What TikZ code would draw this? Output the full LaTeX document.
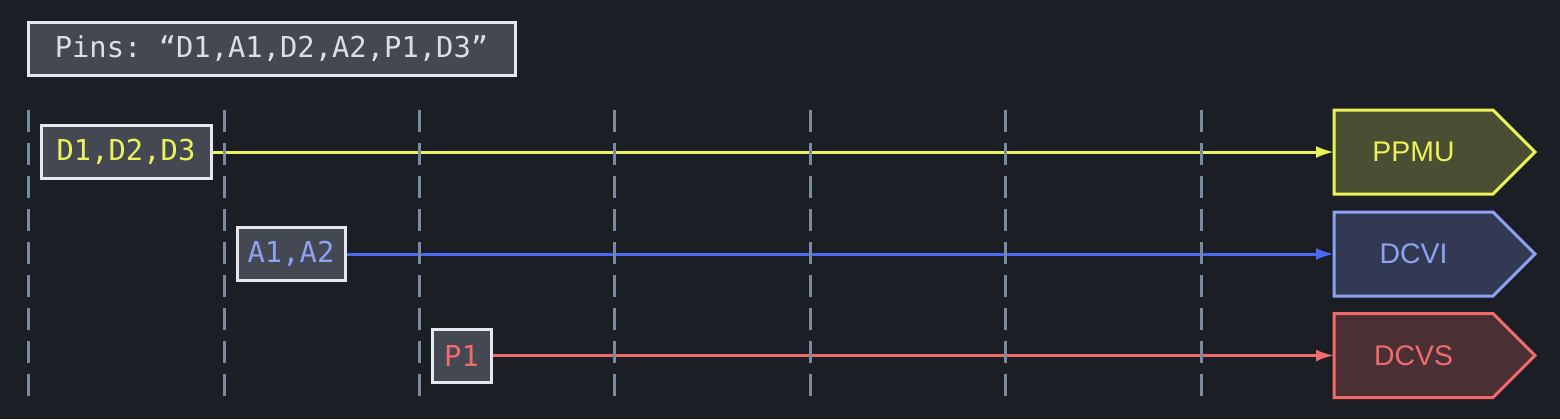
\documentclass[tikz,border=0pt]{standalone}
\usepackage{fontspec}
\setmonofont{DejaVu Sans Mono}
\setsansfont{Liberation Sans}
\usepackage{tikz}
\definecolor{panelbg}{HTML}{1B1E25}
\definecolor{boxfill}{HTML}{444852}
\definecolor{boxline}{HTML}{E6E7EC}
\definecolor{gridcol}{HTML}{7A8AA0}
\definecolor{pintext}{HTML}{DCDEE4}
\definecolor{ppmucol}{HTML}{ECF25A}
\definecolor{ppmufill}{HTML}{4A4E32}
\definecolor{dcvicol}{HTML}{8EA2F2}
\definecolor{dcviline}{HTML}{4A6AF5}
\definecolor{dcvifill}{HTML}{313A52}
\definecolor{dcvscol}{HTML}{F06B6B}
\definecolor{dcvsfill}{HTML}{4A2F35}
\usetikzlibrary{positioning, arrows.meta, backgrounds}
\tikzstyle{arrow} = [line width=1.5pt,-{Latex[length=9pt,width=6pt]}]

\begin{document}
\begin{tikzpicture}[x=0.5pt, y=-0.5pt]
    \tikzstyle{every node}=[font=\fontsize{14.4}{17}\selectfont\ttfamily]
    \tikzstyle{pinbox} = [draw=boxline, fill=boxfill, line width=1.5pt, inner sep=0pt, minimum height=26.5pt]
    \tikzstyle{unit} = [draw=none, inner sep=0pt, outer sep=0pt, minimum width=79.5pt, minimum height=42pt, font=\fontsize{14.2}{17}\selectfont\sffamily]
    \tikzstyle{unitshape} = [line width=1.5pt]
    \tikzstyle{grid} = [gridcol, line width=1.5pt, dash pattern=on 11pt off 5.5pt]

    \useasboundingbox (0,0) rectangle (1560,419);
    \begin{scope}[on background layer]
        \fill[panelbg] (0,0) rectangle (1560,419);
    \end{scope}

    % pin list
    \node[pinbox, minimum width=243.5pt, text=pintext](pins) at (271.5,48.5) {Pins: “D1,A1,D2,A2,P1,D3”};

    % pin groups
    \node[pinbox, minimum width=85pt, text=ppmucol](dpins) at (126,152) {D1,D2,D3};
    \node[pinbox, minimum width=54pt, text=dcvicol](apins) at (291,254) {A1,A2};
    \node[pinbox, minimum width=29.5pt, text=dcvscol](ppins) at (461.5,355.5) {P1};

    % instruments
    \node[unit, text=ppmucol](ppmu) at (1413.5,152) {PPMU};
    \node[unit, text=dcvicol](dcvi) at (1413.5,254) {DCVI};
    \node[unit, text=dcvscol](dcvs) at (1413.5,355.5) {DCVS};

    \begin{scope}[on background layer]
        \filldraw[unitshape, draw=ppmucol, fill=ppmufill] (ppmu.north west) -- (ppmu.north east) -- ([xshift=21pt]ppmu.east) -- (ppmu.south east) -- (ppmu.south west) -- cycle;
        \filldraw[unitshape, draw=dcvicol, fill=dcvifill] (dcvi.north west) -- (dcvi.north east) -- ([xshift=21pt]dcvi.east) -- (dcvi.south east) -- (dcvi.south west) -- cycle;
        \filldraw[unitshape, draw=dcvscol, fill=dcvsfill] (dcvs.north west) -- (dcvs.north east) -- ([xshift=21pt]dcvs.east) -- (dcvs.south east) -- (dcvs.south west) -- cycle;
    \end{scope}

    \draw[arrow, ppmucol] (dpins) -- (ppmu);
    \draw[arrow, dcviline] (apins) -- (dcvi);
    \draw[arrow, dcvscol] (ppins) -- (dcvs);

    % site dividers
    \draw[grid] (28,110) -- (28,396);
    \draw[grid] (224,110) -- (224,396);
    \draw[grid] (419,110) -- (419,396);
    \draw[grid] (614.5,110) -- (614.5,396);
    \draw[grid] (810,110) -- (810,396);
    \draw[grid] (1005.5,110) -- (1005.5,396);
    \draw[grid] (1201,110) -- (1201,396);

\end{tikzpicture}
\end{document}
